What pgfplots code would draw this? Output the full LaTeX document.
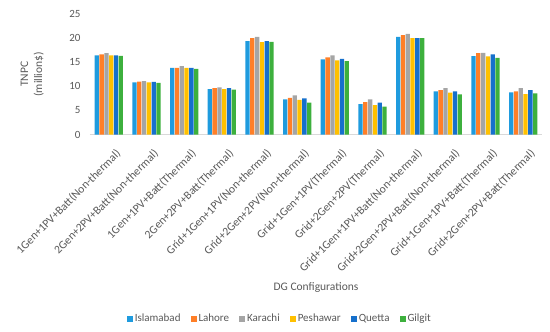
\documentclass[border=0pt]{standalone}
\usepackage{fontspec}
\setmainfont{Carlito}
\usepackage{pgfplots}
\pgfplotsset{compat=1.18}
\definecolor{cIsl}{HTML}{1F9BDE}
\definecolor{cLah}{HTML}{FF7F27}
\definecolor{cKar}{HTML}{A5A5A5}
\definecolor{cPes}{HTML}{FFC000}
\definecolor{cQue}{HTML}{1670CC}
\definecolor{cGil}{HTML}{3DB03D}
\definecolor{txt}{HTML}{595959}
\begin{document}
\begin{tikzpicture}
\useasboundingbox (-90bp,-197bp) rectangle (460bp,134.5bp);
\begin{axis}[
  at={(0,0)}, anchor=south west,
  scale only axis, width=452bp, height=120.5bp,
  ybar=0.5bp, bar width=4.3bp,
  xmin=-0.5, xmax=11.5, ymin=0, ymax=25,
  ytick={0,5,10,15,20,25},
  xtick={0,...,11},
  xticklabels={1Gen+1PV+Batt(Non-thermal),2Gen+2PV+Batt(Non-thermal),1Gen+1PV+Batt(Thermal),2Gen+2PV+Batt(Thermal),Grid+1Gen+1PV(Non-thermal),Grid+2Gen+2PV(Non-thermal),Grid+1Gen+1PV(Thermal),Grid+2Gen+2PV(Thermal),Grid+1Gen+1PV+Batt(Non-thermal),Grid+2Gen+2PV+Batt(Non-thermal),Grid+1Gen+1PV+Batt(Thermal),Grid+2Gen+2PV+Batt(Thermal)},
  xticklabel style={rotate=45, anchor=north east, font=\fontsize{11.6bp}{14bp}\selectfont, text=txt, inner sep=1bp, xshift=-4bp, yshift=-13bp},
  yticklabel style={font=\fontsize{11bp}{13bp}\selectfont, text=txt, xshift=-6bp},
  /pgf/number format/assume math mode=true,
  major tick length=0pt,
  axis x line*=bottom, axis y line*=left,
  separate axis lines,
  x axis line style={draw=black!15, -},
  y axis line style={draw=none, -},
  xlabel={DG Configurations},
  xlabel style={font=\fontsize{11.5bp}{13bp}\selectfont, text=txt, at={(axis description cs:0.5,0)}, anchor=north, yshift=-145bp},
  ylabel={TNPC\\(million\$)},
  ylabel style={font=\fontsize{11.5bp}{14bp}\selectfont, text=txt, align=center, at={(axis description cs:-0.128,0.5)}, anchor=center},
  legend columns=6,
  legend style={at={(axis description cs:0.42,-1.527)}, anchor=center, draw=none, font=\fontsize{11bp}{13bp}\selectfont, text=txt, /tikz/every even column/.append style={column sep=8bp}},
  legend image code/.code={\fill[#1] (0bp,-3bp) rectangle (6bp,3bp);},
]
\addplot[fill=cIsl, draw=none] coordinates {(0,16.4) (1,10.8) (2,13.8) (3,9.4) (4,19.35) (5,7.3) (6,15.6) (7,6.3) (8,20.25) (9,8.95) (10,16.25) (11,8.75)};
\addplot[fill=cLah, draw=none] coordinates {(0,16.6) (1,10.95) (2,13.8) (3,9.6) (4,20.0) (5,7.6) (6,16.0) (7,6.7) (8,20.6) (9,9.2) (10,16.9) (11,8.95)};
\addplot[fill=cKar, draw=none] coordinates {(0,16.9) (1,11.1) (2,14.2) (3,9.8) (4,20.25) (5,8.1) (6,16.4) (7,7.3) (8,20.9) (9,9.6) (10,16.95) (11,9.6)};
\addplot[fill=cPes, draw=none] coordinates {(0,16.4) (1,10.8) (2,13.8) (3,9.4) (4,19.15) (5,7.2) (6,15.4) (7,6.1) (8,20.0) (9,8.7) (10,16.2) (11,8.4)};
\addplot[fill=cQue, draw=none] coordinates {(0,16.4) (1,10.9) (2,13.8) (3,9.6) (4,19.35) (5,7.5) (6,15.7) (7,6.6) (8,20.0) (9,8.95) (10,16.6) (11,9.2)};
\addplot[fill=cGil, draw=none] coordinates {(0,16.3) (1,10.7) (2,13.6) (3,9.3) (4,19.2) (5,6.6) (6,15.2) (7,5.8) (8,20.0) (9,8.3) (10,15.9) (11,8.55)};
\legend{Islamabad,Lahore,Karachi,Peshawar,Quetta,Gilgit}
\end{axis}
\end{tikzpicture}
\end{document}
